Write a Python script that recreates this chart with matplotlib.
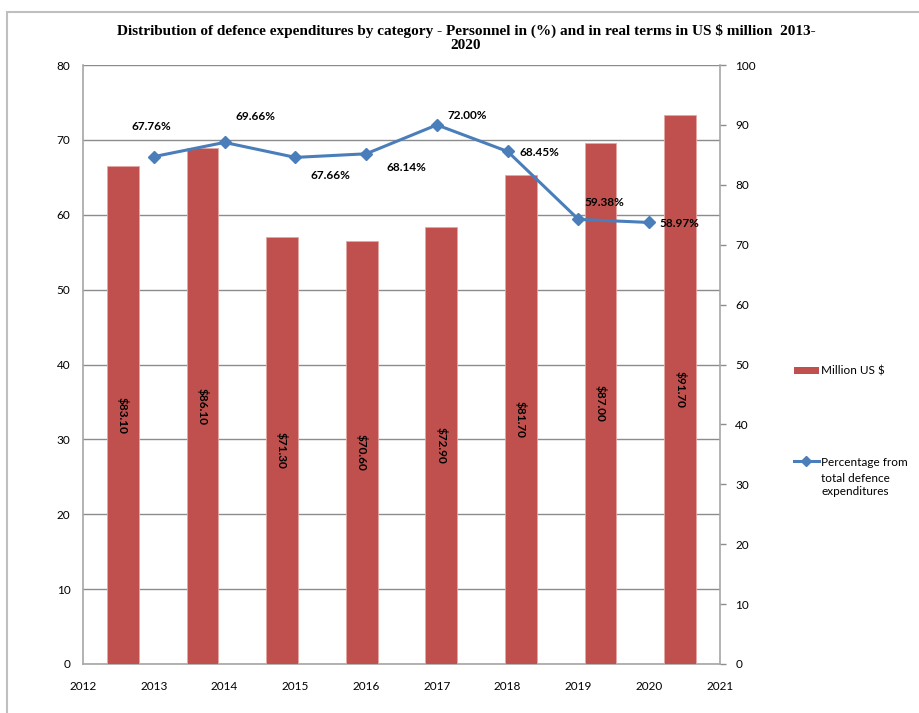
import matplotlib
matplotlib.use("Agg")
import matplotlib.pyplot as plt
from matplotlib.patches import Rectangle, Patch
from matplotlib.lines import Line2D

plt.rcParams["font.family"] = ["Lato", "DejaVu Sans"]

# ── data ─────────────────────────────────────────────────────────────────────
years = [2013, 2014, 2015, 2016, 2017, 2018, 2019, 2020]
spend_musd = [83.10, 86.10, 71.30, 70.60, 72.90, 81.70, 87.00, 91.70]
personnel_pct = [67.76, 69.66, 67.66, 68.14, 72.00, 68.45, 59.38, 58.97]
year_ticks = list(range(2012, 2022))
left_ticks = list(range(0, 81, 10))
right_ticks = list(range(0, 101, 10))

# label offsets for the percentage points (points)
pct_offsets = [(-2, 22), (22, 19), (25, -13), (29, -10),
               (22, 7), (23, -1), (19, 12), (22, -1)]

BAR_COLOR = "#C0504D"
LINE_COLOR = "#4A7EBB"
AXIS_GRAY = "#8C8C8C"

fig = plt.figure(figsize=(9.19, 7.13), dpi=100)
pos = [83 / 919, 1 - 664 / 713, (720 - 83) / 919, (664 - 65) / 713]

# outer chart border
fig.patches.append(Rectangle((7 / 919, -0.05), 1.2, 1 - 12 / 713 + 0.05,
                             transform=fig.transFigure, fill=False,
                             edgecolor="#BFBFBF", linewidth=1.5))

# base axes: left scale, year axis, gridlines
ax = fig.add_axes(pos)
ax.set_xlim(2012, 2021)
ax.set_ylim(0, 80)
ax.set_xticks(year_ticks)
ax.set_yticks(left_ticks)
ax.grid(axis="y", color=AXIS_GRAY, linewidth=1.0)
ax.set_axisbelow(True)
ax.tick_params(axis="y", length=0, pad=9, labelsize=8.5)
ax.tick_params(axis="x", length=0, pad=12, labelsize=8.5)
for side in ("top", "right"):
    ax.spines[side].set_visible(False)
for side in ("left", "bottom"):
    ax.spines[side].set_color("#A6A6A6")
    ax.spines[side].set_linewidth(1.2)

# bar axes: categorical x, right scale
ax_bar = fig.add_axes(pos)
ax_bar.patch.set_visible(False)
ax_bar.set_xlim(-0.5, len(years) - 0.5)
ax_bar.set_ylim(0, 100)
bars = ax_bar.bar(range(len(years)), spend_musd, width=0.4, color=BAR_COLOR,
                  edgecolor="#E3A6A5", linewidth=0.6, label="Million US $")
for i, v in enumerate(spend_musd):
    ax_bar.text(i, v / 2, f"${v:.2f}", rotation=270, ha="center", va="center",
                fontsize=8.5, fontweight="bold", color="black")
ax_bar.set_xticks([])
ax_bar.yaxis.tick_right()
ax_bar.set_yticks(right_ticks)
ax_bar.tick_params(axis="y", direction="out", length=4, width=1,
                   color=AXIS_GRAY, pad=7, labelsize=8.5)
for side in ("top", "left", "bottom"):
    ax_bar.spines[side].set_visible(False)
ax_bar.spines["right"].set_color("#A6A6A6")
ax_bar.spines["right"].set_linewidth(1.2)

# line axes: percentage share on the left scale
ax_line = fig.add_axes(pos)
ax_line.patch.set_visible(False)
ax_line.set_xlim(2012, 2021)
ax_line.set_ylim(0, 80)
ax_line.axis("off")
ax_line.plot(years, personnel_pct, color=LINE_COLOR, linewidth=2.2,
             marker="D", markersize=6, clip_on=False)
for x, y, (dx, dy) in zip(years, personnel_pct, pct_offsets):
    ax_line.annotate(f"{y:.2f}%", (x, y), xytext=(dx, dy),
                     textcoords="offset points", ha="center", va="center",
                     fontsize=8.5, fontweight="bold")

fig.text(0.507, 1 - 38 / 713,
         "Distribution of defence expenditures by category - Personnel in (%) "
         "and in real terms in US $ million  2013-\n2020",
         ha="center", va="center", fontsize=11, fontweight="bold",
         family="Liberation Serif", linespacing=1.05)

# legend entries
leg_kw = dict(frameon=False, fontsize=8.5, handlelength=2.1, handletextpad=0.2,
              borderpad=0, borderaxespad=0)
fig.legend(handles=[Patch(facecolor=BAR_COLOR, edgecolor="none")],
           labels=["Million US $"], loc="center left",
           bbox_to_anchor=(794 / 919, 1 - 371 / 713), handleheight=0.5,
           **leg_kw)
fig.legend(handles=[Line2D([], [], color=LINE_COLOR, linewidth=2.2,
                           marker="D", markersize=5)],
           labels=["Percentage from"], loc="center left",
           bbox_to_anchor=(794 / 919, 1 - 462 / 713), **leg_kw)
# wrapped continuation of the second legend label
fig.text(821 / 919, 1 - 485 / 713, "total defence\nexpenditures",
         ha="left", va="center", fontsize=8.5, linespacing=1.3)

fig.savefig("out.png", dpi=100)
